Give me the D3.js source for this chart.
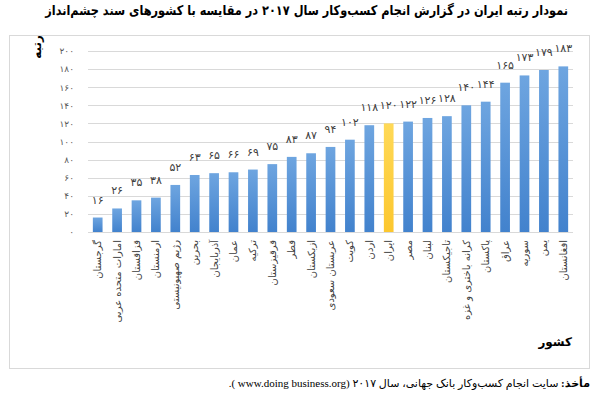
<!DOCTYPE html>
<html>
<head>
<meta charset="utf-8">
<script src="https://cdn.jsdelivr.net/npm/d3@7"></script>
<style>
  body { margin: 0; background: #fff; }
  svg { font-family: "DejaVu Sans", sans-serif; }
</style>
</head>
<body>
<div id="chart"></div>
<script>
var countries = ["گرجستان", "امارات متحده عربی", "قزاقستان", "ارمنستان", "رژیم صهیونیستی",
    "بحرین", "آذربایجان", "عمان", "ترکیه", "قرقیزستان", "قطر", "ازبکستان", "عربستان سعودی",
    "کویت", "اردن", "ایران", "مصر", "لبنان", "تاجیکستان", "کرانه باختری و غزه", "پاکستان",
    "عراق", "سوریه", "یمن", "افغانستان"];
var ranks = [16, 26, 35, 38, 52, 63, 65, 66, 69, 75, 83, 87, 94, 102, 118, 120, 122, 126, 128,
    140, 144, 165, 173, 179, 183];
var highlight = "ایران";
var yTicks = [0, 20, 40, 60, 80, 100, 120, 140, 160, 180, 200];

var titleText = "نمودار رتبه ایران در گزارش انجام کسب‌وکار سال ۲۰۱۷ در مقایسه با کشورهای سند چشم‌انداز";
var yTitle = "رتبه";
var xTitle = "کشور";
var sourceBold = "مأخذ:";
var sourceText = " سایت انجام کسب‌وکار بانک جهانی، سال ۲۰۱۷  (www.doing business.org ).";

function fa(n) {
    return String(n).replace(/\d/g, function (d) { return "۰۱۲۳۴۵۶۷۸۹"[d]; });
}

var W = 600, H = 404;
var svg = d3.select("#chart").append("svg")
    .attr("width", W)
    .attr("height", H);

// gradient for bars
var defs = svg.append("defs");
var g1 = defs.append("linearGradient").attr("id", "blueGrad")
    .attr("x1", 0).attr("y1", 0).attr("x2", 0).attr("y2", 1);
g1.append("stop").attr("offset", "0%").attr("stop-color", "#6ea5e0");
g1.append("stop").attr("offset", "100%").attr("stop-color", "#4282cd");
var g2 = defs.append("linearGradient").attr("id", "yellowGrad")
    .attr("x1", 0).attr("y1", 0).attr("x2", 0).attr("y2", 1);
g2.append("stop").attr("offset", "0%").attr("stop-color", "#ffd957");
g2.append("stop").attr("offset", "100%").attr("stop-color", "#fcc72e");

// title (squeezed a bit so it fits like the original)
svg.append("text")
    .attr("transform", "translate(568,15) scale(0.84,1)")
    .attr("direction", "rtl")
    .attr("text-anchor", "start")
    .attr("font-size", "13.5px")
    .attr("font-weight", "bold")
    .attr("fill", "#000")
    .text(titleText);

// chart frame
svg.append("rect")
    .attr("x", 9.5).attr("y", 35.5)
    .attr("width", 580).attr("height", 333)
    .attr("fill", "#fff")
    .attr("stroke", "#d9d9d9");

var margin = {left: 88, right: 573, top: 51, bottom: 232};

var x = d3.scaleBand()
    .domain(countries)
    .range([margin.left, margin.right])
    .paddingInner(0.5)
    .paddingOuter(0.25);

var y = d3.scaleLinear()
    .domain([0, 200])
    .range([margin.bottom, margin.top]);

// gridlines
svg.append("g")
    .selectAll("line")
    .data(yTicks)
    .enter()
    .append("line")
    .attr("x1", margin.left)
    .attr("x2", margin.right)
    .attr("y1", function (d) { return Math.round(y(d)) + 0.5; })
    .attr("y2", function (d) { return Math.round(y(d)) + 0.5; })
    .attr("stroke", "#d9d9d9")
    .attr("stroke-width", 1);

// y axis labels
var yAxis = d3.axisLeft(y)
    .tickValues(yTicks)
    .tickSize(0)
    .tickPadding(0)
    .tickFormat(fa);
var yAxisGroup = svg.append("g")
    .attr("transform", "translate(74,0)")
    .call(yAxis);
yAxisGroup.select(".domain").remove();
yAxisGroup.selectAll("text")
    .style("font-family", "'DejaVu Sans', sans-serif")
    .style("font-size", "9px")
    .attr("fill", "#595959");

// bars
svg.append("g")
    .selectAll("rect")
    .data(countries)
    .enter()
    .append("rect")
    .attr("x", function (d) { return x(d); })
    .attr("y", function (d, i) { return y(ranks[i]); })
    .attr("width", x.bandwidth())
    .attr("height", function (d, i) { return y(0) - y(ranks[i]); })
    .attr("fill", function (d) {
        return d == highlight ? "url(#yellowGrad)" : "url(#blueGrad)";
    });

// value labels
svg.append("g")
    .selectAll("text")
    .data(countries)
    .enter()
    .append("text")
    .attr("x", function (d) { return x(d) + x.bandwidth() / 2; })
    .attr("y", function (d, i) { return y(ranks[i]) - 14; })
    .attr("text-anchor", "middle")
    .attr("font-size", "11px")
    .attr("fill", "#404040")
    .text(function (d, i) { return fa(ranks[i]); });

// x axis labels (rotated)
var xAxis = d3.axisBottom(x).tickSize(0).tickPadding(0);
var xAxisGroup = svg.append("g")
    .attr("transform", "translate(0," + margin.bottom + ")")
    .call(xAxis);
xAxisGroup.select(".domain").remove();
xAxisGroup.selectAll("text")
    .style("font-family", "'DejaVu Sans', sans-serif")
    .style("font-size", "10px")
    .attr("fill", "#404040")
    .attr("transform", "rotate(-90)")
    .attr("text-anchor", "end")
    .attr("x", -8)
    .attr("y", 0)
    .attr("dy", "0.35em");

// axis titles
svg.append("text")
    .attr("transform", "translate(37,47) rotate(-90)")
    .attr("text-anchor", "middle")
    .attr("dy", "0.35em")
    .attr("font-size", "12px")
    .attr("font-weight", "bold")
    .attr("fill", "#000")
    .text(yTitle);

svg.append("text")
    .attr("x", 572)
    .attr("y", 346)
    .attr("direction", "rtl")
    .attr("text-anchor", "start")
    .attr("font-size", "12px")
    .attr("font-weight", "bold")
    .attr("fill", "#000")
    .text(xTitle);

// source
var src = svg.append("text")
    .attr("x", 590)
    .attr("y", 387)
    .attr("direction", "rtl")
    .attr("text-anchor", "start")
    .style("font-family", "'Liberation Serif', 'DejaVu Sans', serif")
    .style("font-size", "11px")
    .attr("fill", "#000");
src.append("tspan").attr("font-weight", "bold").text(sourceBold);
src.append("tspan").text(sourceText);
</script>
</body>
</html>
